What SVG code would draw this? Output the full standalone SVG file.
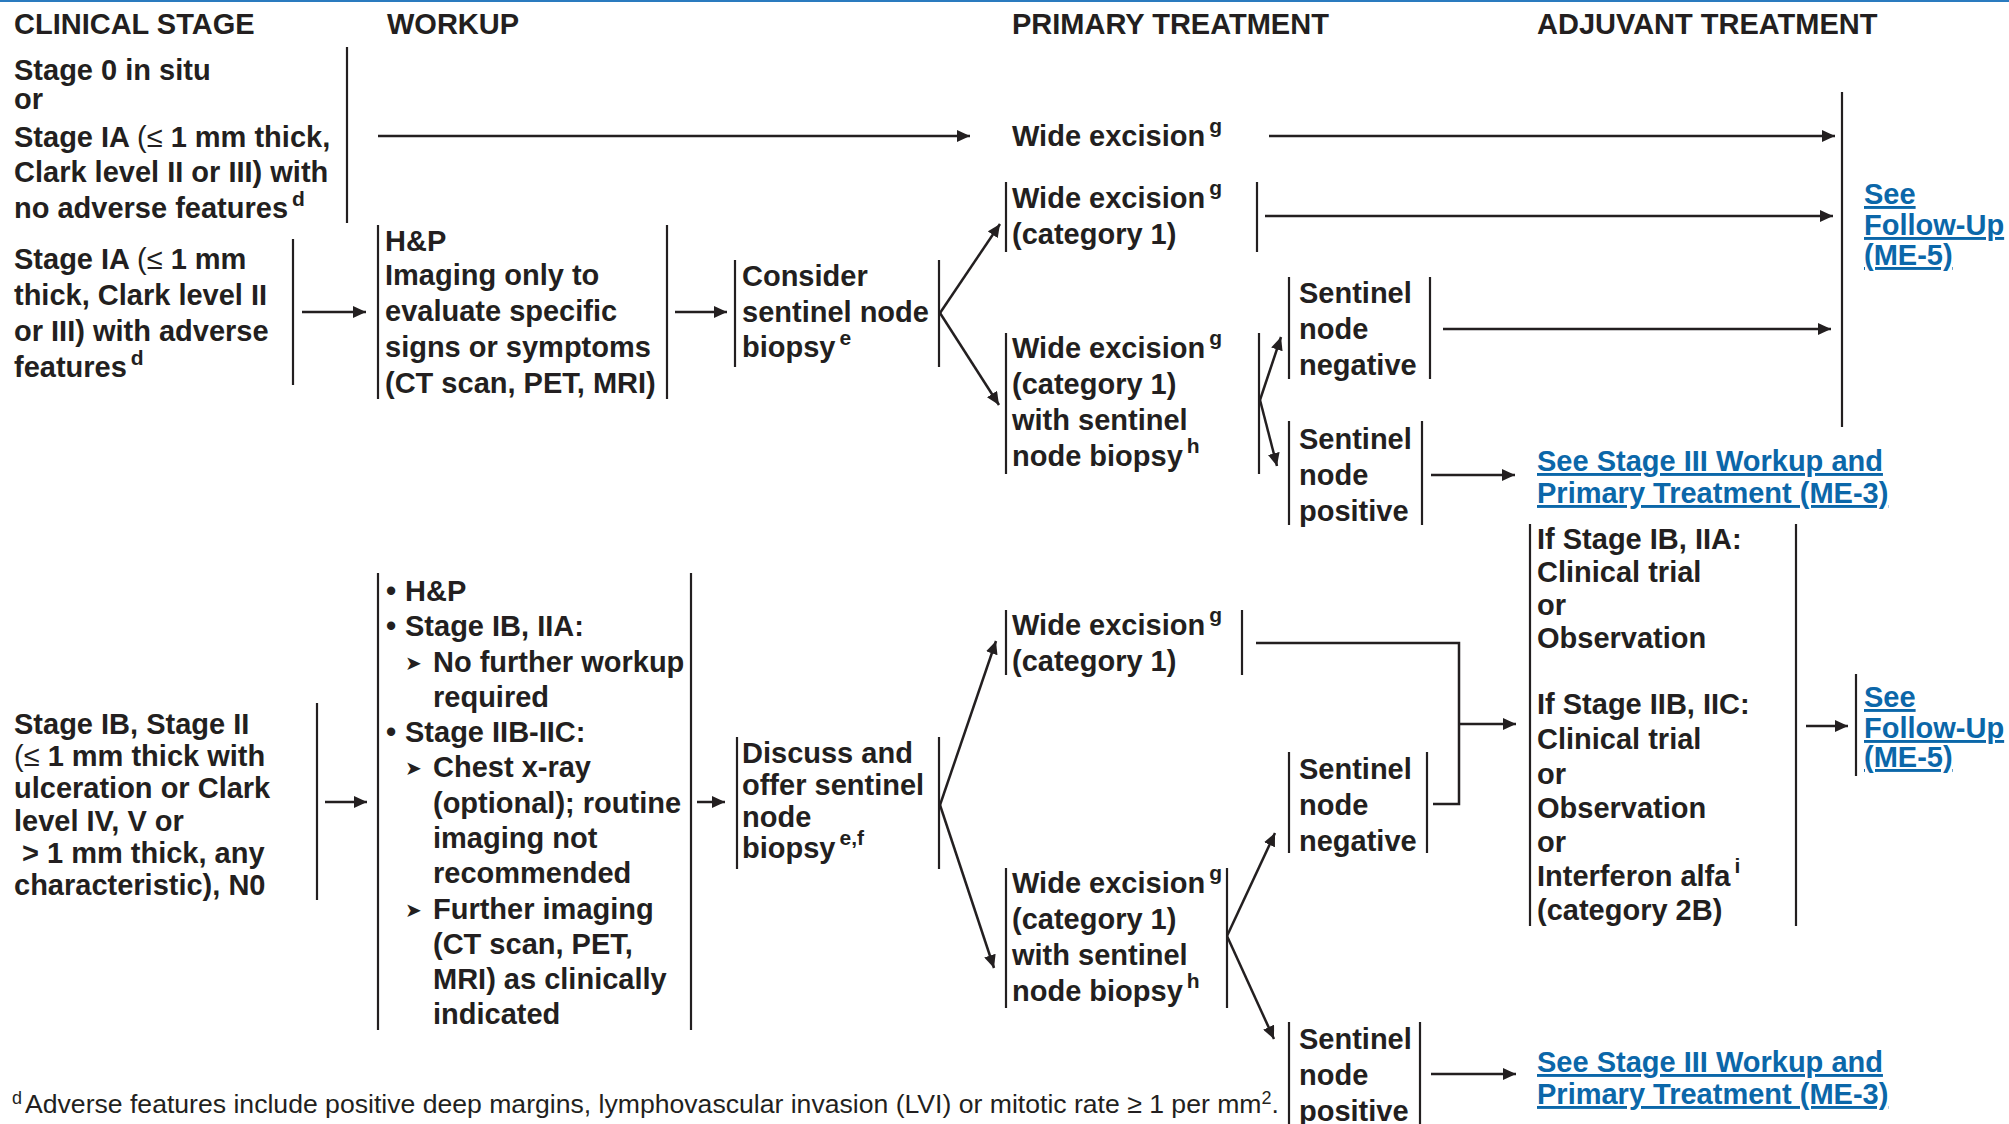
<svg xmlns="http://www.w3.org/2000/svg" width="2009" height="1124" viewBox="0 0 2009 1124">
<style>
text{font-family:"Liberation Sans",Arial,Helvetica,sans-serif;font-weight:bold;font-size:29px;fill:#231f20}
.sup{font-size:21px}
.nw{font-weight:normal}
.lnk{fill:#0b67a9;text-decoration:underline}
.fn{font-weight:normal;font-size:26.6px}
.bar{stroke:#231f20;stroke-width:2.2;fill:none}
.ar{stroke:#231f20;stroke-width:2.5;fill:none;marker-end:url(#ah)}
.ln{stroke:#231f20;stroke-width:2.5;fill:none}
.tri{font-family:"DejaVu Sans",sans-serif;font-weight:normal;font-size:20px}
</style>
<defs>
<marker id="ah" markerUnits="userSpaceOnUse" markerWidth="14" markerHeight="12" refX="13" refY="6" orient="auto">
<path d="M0,0 L13,6 L0,12 z" fill="#231f20"/>
</marker>
</defs>
<rect x="0" y="0" width="2009" height="2" fill="#2a7bbf"/>
<g id="headers">
<text x="14" y="34">CLINICAL STAGE</text>
<text x="387" y="34">WORKUP</text>
<text x="1012" y="34">PRIMARY TREATMENT</text>
<text x="1537" y="34">ADJUVANT TREATMENT</text>
</g>
<g id="n_stage0">
<text x="14" y="80">Stage 0 in situ</text>
<text x="14" y="109">or</text>
<text x="14" y="147">Stage IA <tspan class="nw">(≤</tspan> 1 mm thick,</text>
<text x="14" y="182">Clark level II or III) with</text>
<text x="14" y="218">no adverse features<tspan class="sup" dx="4" dy="-12">d</tspan></text>
<line class="bar" x1="347" y1="47" x2="347" y2="223"/>
</g>
<g id="n_stageIA_adv">
<text x="14" y="269">Stage IA <tspan class="nw">(≤</tspan> 1 mm</text>
<text x="14" y="305">thick, Clark level II</text>
<text x="14" y="341">or III) with adverse</text>
<text x="14" y="377">features<tspan class="sup" dx="4" dy="-12">d</tspan></text>
<line class="bar" x1="293" y1="239" x2="293" y2="385"/>
</g>
<g id="n_workup1">
<line class="bar" x1="378" y1="225" x2="378" y2="399"/>
<line class="bar" x1="667" y1="225" x2="667" y2="399"/>
<text x="385" y="251">H&amp;P</text>
<text x="385" y="285">Imaging only to</text>
<text x="385" y="321">evaluate specific</text>
<text x="385" y="357">signs or symptoms</text>
<text x="385" y="393">(CT scan, PET, MRI)</text>
</g>
<g id="n_consider">
<line class="bar" x1="735" y1="260" x2="735" y2="367"/>
<line class="bar" x1="939" y1="260" x2="939" y2="367"/>
<text x="742" y="286">Consider</text>
<text x="742" y="322">sentinel node</text>
<text x="742" y="357">biopsy<tspan class="sup" dx="4" dy="-12">e</tspan></text>
</g>
<g id="n_wide0">
<text x="1012" y="146">Wide excision<tspan class="sup" dx="4" dy="-13">g</tspan></text>
</g>
<g id="n_wide1">
<line class="bar" x1="1006" y1="182" x2="1006" y2="252"/>
<line class="bar" x1="1257" y1="182" x2="1257" y2="252"/>
<text x="1012" y="208">Wide excision<tspan class="sup" dx="4" dy="-13">g</tspan></text>
<text x="1012" y="244">(category 1)</text>
</g>
<g id="n_wide_snb1">
<line class="bar" x1="1006" y1="333" x2="1006" y2="474"/>
<line class="bar" x1="1259" y1="333" x2="1259" y2="474"/>
<text x="1012" y="358">Wide excision<tspan class="sup" dx="4" dy="-13">g</tspan></text>
<text x="1012" y="394">(category 1)</text>
<text x="1012" y="430">with sentinel</text>
<text x="1012" y="466">node biopsy<tspan class="sup" dx="4" dy="-13">h</tspan></text>
</g>
<g id="n_snneg1">
<line class="bar" x1="1289" y1="277" x2="1289" y2="379"/>
<line class="bar" x1="1430" y1="277" x2="1430" y2="379"/>
<text x="1299" y="303">Sentinel</text>
<text x="1299" y="339">node</text>
<text x="1299" y="375">negative</text>
</g>
<g id="n_snpos1">
<line class="bar" x1="1289" y1="421" x2="1289" y2="525"/>
<line class="bar" x1="1422" y1="421" x2="1422" y2="525"/>
<text x="1299" y="449">Sentinel</text>
<text x="1299" y="485">node</text>
<text x="1299" y="521">positive</text>
</g>
<g id="n_see3_1">
<text class="lnk" x="1537" y="471">See Stage III Workup and</text>
<text class="lnk" x="1537" y="503">Primary Treatment (ME-3)</text>
</g>
<g id="n_fu1">
<line class="bar" x1="1842" y1="92" x2="1842" y2="427"/>
<text class="lnk" x="1864" y="204">See</text>
<text class="lnk" x="1864" y="235">Follow-Up</text>
<text class="lnk" x="1864" y="265">(ME-5)</text>
</g>
<g id="n_stageIB">
<text x="14" y="734">Stage IB, Stage II</text>
<text x="14" y="766"><tspan class="nw">(≤</tspan> 1 mm thick with</text>
<text x="14" y="798">ulceration or Clark</text>
<text x="14" y="831">level IV, V or</text>
<text x="22" y="863">&gt; 1 mm thick, any</text>
<text x="14" y="895">characteristic), N0</text>
<line class="bar" x1="317" y1="703" x2="317" y2="900"/>
</g>
<g id="n_workup2">
<line class="bar" x1="378" y1="573" x2="378" y2="1030"/>
<line class="bar" x1="691" y1="573" x2="691" y2="1030"/>
<text x="386" y="601">•</text><text x="405" y="601">H&amp;P</text>
<text x="386" y="636">•</text><text x="405" y="636">Stage IB, IIA:</text>
<text class="tri" x="405" y="670">➤</text><text x="433" y="672">No further workup</text>
<text x="433" y="707">required</text>
<text x="386" y="742">•</text><text x="405" y="742">Stage IIB-IIC:</text>
<text class="tri" x="405" y="775">➤</text><text x="433" y="777">Chest x-ray</text>
<text x="433" y="813">(optional); routine</text>
<text x="433" y="848">imaging not</text>
<text x="433" y="883">recommended</text>
<text class="tri" x="405" y="917">➤</text><text x="433" y="919">Further imaging</text>
<text x="433" y="954">(CT scan, PET,</text>
<text x="433" y="989">MRI) as clinically</text>
<text x="433" y="1024">indicated</text>
</g>
<g id="n_discuss">
<line class="bar" x1="737" y1="737" x2="737" y2="869"/>
<line class="bar" x1="939" y1="737" x2="939" y2="869"/>
<text x="742" y="763">Discuss and</text>
<text x="742" y="795">offer sentinel</text>
<text x="742" y="827">node</text>
<text x="742" y="858">biopsy<tspan class="sup" dx="4" dy="-13">e,f</tspan></text>
</g>
<g id="n_wide2">
<line class="bar" x1="1006" y1="610" x2="1006" y2="675"/>
<line class="bar" x1="1242" y1="610" x2="1242" y2="675"/>
<text x="1012" y="635">Wide excision<tspan class="sup" dx="4" dy="-13">g</tspan></text>
<text x="1012" y="671">(category 1)</text>
</g>
<g id="n_wide_snb2">
<line class="bar" x1="1006" y1="868" x2="1006" y2="1008"/>
<line class="bar" x1="1227" y1="868" x2="1227" y2="1008"/>
<text x="1012" y="893">Wide excision<tspan class="sup" dx="4" dy="-13">g</tspan></text>
<text x="1012" y="929">(category 1)</text>
<text x="1012" y="965">with sentinel</text>
<text x="1012" y="1001">node biopsy<tspan class="sup" dx="4" dy="-13">h</tspan></text>
</g>
<g id="n_snneg2">
<line class="bar" x1="1289" y1="752" x2="1289" y2="853"/>
<line class="bar" x1="1427" y1="752" x2="1427" y2="853"/>
<text x="1299" y="779">Sentinel</text>
<text x="1299" y="815">node</text>
<text x="1299" y="851">negative</text>
</g>
<g id="n_snpos2">
<line class="bar" x1="1289" y1="1022" x2="1289" y2="1124"/>
<line class="bar" x1="1420" y1="1022" x2="1420" y2="1124"/>
<text x="1299" y="1049">Sentinel</text>
<text x="1299" y="1085">node</text>
<text x="1299" y="1121">positive</text>
</g>
<g id="n_adj">
<line class="bar" x1="1530" y1="524" x2="1530" y2="926"/>
<line class="bar" x1="1796" y1="524" x2="1796" y2="926"/>
<text x="1537" y="549">If Stage IB, IIA:</text>
<text x="1537" y="582">Clinical trial</text>
<text x="1537" y="615">or</text>
<text x="1537" y="648">Observation</text>
<text x="1537" y="714">If Stage IIB, IIC:</text>
<text x="1537" y="749">Clinical trial</text>
<text x="1537" y="784">or</text>
<text x="1537" y="818">Observation</text>
<text x="1537" y="852">or</text>
<text x="1537" y="886">Interferon alfa<tspan class="sup" dx="4" dy="-13">i</tspan></text>
<text x="1537" y="920">(category 2B)</text>
</g>
<g id="n_fu2">
<line class="bar" x1="1856" y1="674" x2="1856" y2="776"/>
<text class="lnk" x="1864" y="707">See</text>
<text class="lnk" x="1864" y="738">Follow-Up</text>
<text class="lnk" x="1864" y="767">(ME-5)</text>
</g>
<g id="n_see3_2">
<text class="lnk" x="1537" y="1072">See Stage III Workup and</text>
<text class="lnk" x="1537" y="1104">Primary Treatment (ME-3)</text>
</g>
<g id="footnote">
<text class="fn" x="12" y="1113"><tspan font-size="18" dy="-9">d</tspan><tspan dx="3" dy="9">Adverse features include positive deep margins, lymphovascular invasion (LVI) or mitotic rate ≥ 1 per mm</tspan><tspan font-size="18" dy="-9">2</tspan><tspan dy="9">.</tspan></text>
</g>
<g id="connectors">
<line class="ar" x1="378" y1="136" x2="970" y2="136"/>
<line class="ar" x1="302" y1="312" x2="366" y2="312"/>
<line class="ar" x1="675" y1="312" x2="727" y2="312"/>
<line class="ar" x1="940" y1="313" x2="1000" y2="224"/>
<line class="ar" x1="940" y1="313" x2="999" y2="405"/>
<line class="ar" x1="1269" y1="136" x2="1835" y2="136"/>
<line class="ar" x1="1265" y1="216" x2="1833" y2="216"/>
<line class="ar" x1="1260" y1="400" x2="1281" y2="337"/>
<line class="ar" x1="1260" y1="400" x2="1277" y2="466"/>
<line class="ar" x1="1443" y1="329" x2="1831" y2="329"/>
<line class="ar" x1="1431" y1="475" x2="1515" y2="475"/>
<line class="ar" x1="325" y1="802" x2="367" y2="802"/>
<line class="ar" x1="697" y1="802" x2="725" y2="802"/>
<line class="ar" x1="940" y1="805" x2="996" y2="641"/>
<line class="ar" x1="940" y1="805" x2="994" y2="968"/>
<polyline class="ln" points="1256,643 1459,643 1459,804 1433,804"/>
<line class="ar" x1="1459" y1="724" x2="1516" y2="724"/>
<line class="ar" x1="1227" y1="936" x2="1275" y2="833"/>
<line class="ar" x1="1227" y1="936" x2="1274" y2="1039"/>
<line class="ar" x1="1431" y1="1074" x2="1516" y2="1074"/>
<line class="ar" x1="1806" y1="726" x2="1848" y2="726"/>
</g>
</svg>
